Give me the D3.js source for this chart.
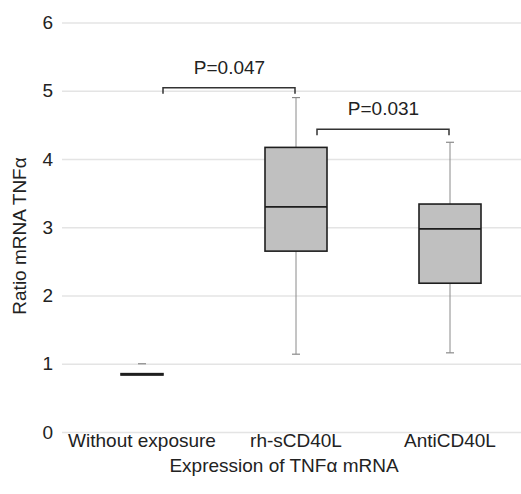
<!DOCTYPE html>
<html>
<head>
<meta charset="utf-8">
<script src="https://cdn.jsdelivr.net/npm/d3@7"></script>
<style>
  body { margin: 0; background: #fff; }
  svg { font-family: "Liberation Sans", Arial, Helvetica, sans-serif; }
  .eje text { font-size: 19px; fill: #222; }
</style>
</head>
<body>
<div id="graf"></div>
<script>
// I. Datos
categorias = ['Without exposure', 'rh-sCD40L', 'AntiCD40L']
minimos   = [0.845, 1.14, 1.16]
q1s       = [0.835, 2.65, 2.18]
medianas  = [0.845, 3.30, 2.975]
q3s       = [0.855, 4.17, 3.34]
maximos   = [1.00, 4.90, 4.245]
yTicks    = [0, 1, 2, 3, 4, 5, 6]

comparaciones = [
  { desde: 'Without exposure', hasta: 'rh-sCD40L', nivel: 5.045, texto: 'P=0.047' },
  { desde: 'rh-sCD40L', hasta: 'AntiCD40L', nivel: 4.435, texto: 'P=0.031' }
]

datos = categorias.map((c, i) => ({
  cat: c, min: minimos[i], q1: q1s[i], med: medianas[i], q3: q3s[i], max: maximos[i]
}))

// II. Configuración
ancho_total = 521
alto_total = 494

svg = d3.select('#graf').append('svg')
        .attr('width', ancho_total)
        .attr('height', alto_total)

y = d3.scaleLinear().domain([0, 6]).range([432, 22.5])
x = d3.scaleBand().domain(categorias).range([65, 527])
centro = c => x(c) + x.bandwidth() / 2

// rejilla + etiquetas del eje y
yAxisCall = d3.axisLeft(y)
              .tickValues(yTicks)
              .tickFormat(d3.format('d'))
              .tickSize(-(ancho_total - 62))
              .tickPadding(9)
yAxisGroup = svg.append('g')
                .attr('class', 'eje')
                .attr('transform', 'translate(62, 0)')
                .call(yAxisCall)
yAxisGroup.select('.domain').remove()
yAxisGroup.selectAll('line').attr('stroke', '#e4e4e4').attr('stroke-width', 1.5)

// etiquetas de categorías
svg.append('g').attr('class', 'eje')
   .selectAll('text')
   .data(categorias)
   .enter().append('text')
     .attr('x', d => centro(d))
     .attr('y', 447)
     .attr('text-anchor', 'middle')
     .text(d => d)

// títulos de ejes
svg.append('text')
   .attr('x', 284).attr('y', 472)
   .attr('text-anchor', 'middle')
   .style('font-size', '19px').style('fill', '#222')
   .text('Expression of TNFα mRNA')

svg.append('text')
   .attr('transform', 'translate(26, 236) rotate(-90)')
   .attr('text-anchor', 'middle')
   .style('font-size', '19px').style('fill', '#222')
   .text('Ratio mRNA TNFα')

// III. Cajas
anchoCaja = c => c == 'Without exposure' ? 42 : 62
capa = 4

g = svg.selectAll('.caja')
       .data(datos)
       .enter().append('g')
       .attr('class', 'caja')

// bigotes (sólo si se ven)
g.each(function(d) {
  sel = d3.select(this)
  cx = centro(d.cat)
  if (y(d.min) - y(d.q1) > 12) {
    sel.append('line')
       .attr('x1', cx).attr('x2', cx)
       .attr('y1', y(d.q1)).attr('y2', y(d.min))
       .attr('stroke', '#8a8a8a').attr('stroke-width', 1)
  }
  if (y(d.q3) - y(d.max) > 12) {
    sel.append('line')
       .attr('x1', cx).attr('x2', cx)
       .attr('y1', y(d.q3)).attr('y2', y(d.max))
       .attr('stroke', '#8a8a8a').attr('stroke-width', 1)
  }
  ;[d.min, d.max].forEach(v => {
    sel.append('line')
       .attr('x1', cx - capa).attr('x2', cx + capa)
       .attr('y1', y(v)).attr('y2', y(v))
       .attr('stroke', '#8a8a8a').attr('stroke-width', 1.2)
  })
})

g.append('rect')
  .attr('x', d => centro(d.cat) - anchoCaja(d.cat) / 2)
  .attr('y', d => y(d.q3))
  .attr('width', d => anchoCaja(d.cat))
  .attr('height', d => y(d.q1) - y(d.q3))
  .attr('fill', '#c0c0c0')
  .attr('stroke', '#1e1e1e')
  .attr('stroke-width', 1.6)

g.append('line')
  .attr('x1', d => centro(d.cat) - anchoCaja(d.cat) / 2)
  .attr('x2', d => centro(d.cat) + anchoCaja(d.cat) / 2)
  .attr('y1', d => y(d.med)).attr('y2', d => y(d.med))
  .attr('stroke', '#1e1e1e')
  .attr('stroke-width', 1.8)

// IV. Corchetes de significancia
b = svg.selectAll('.corchete')
       .data(comparaciones)
       .enter().append('g')
       .attr('class', 'corchete')

b.append('path')
  .attr('d', d => {
    x1 = centro(d.desde) + 21
    x2 = centro(d.hasta) - 1
    yy = y(d.nivel)
    return `M${x1},${yy + 6}V${yy}H${x2}V${yy + 6}`
  })
  .attr('fill', 'none')
  .attr('stroke', '#333')
  .attr('stroke-width', 1.5)

b.append('text')
  .attr('x', d => (centro(d.desde) + 21 + centro(d.hasta)) / 2)
  .attr('y', d => y(d.nivel) - 14)
  .attr('text-anchor', 'middle')
  .style('font-size', '19px').style('fill', '#222')
  .text(d => d.texto)
</script>
</body>
</html>
